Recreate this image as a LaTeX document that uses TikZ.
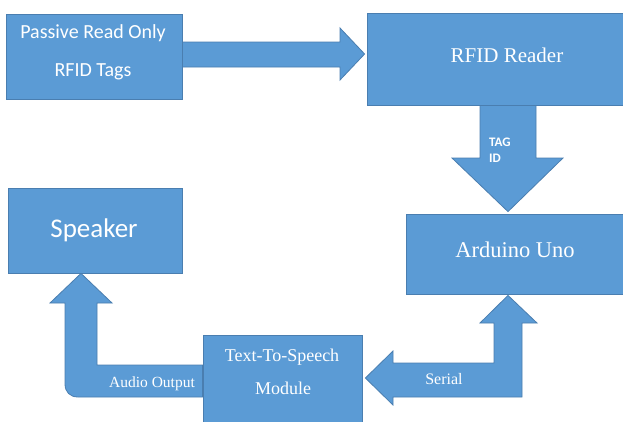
\documentclass[tikz,border=0pt]{standalone}
\usepackage{fontspec}
\setmainfont{Liberation Serif}
\newfontfamily\calfont{Carlito}
\usetikzlibrary{calc}
\definecolor{boxblue}{HTML}{5B9BD5}
\definecolor{edgeblue}{HTML}{4A7EB0}
\newcommand{\fsz}[1]{\fontsize{#1}{#1}\selectfont}
\tikzset{
  blk/.style={draw=edgeblue, fill=boxblue, line width=0.8pt, inner sep=0pt, rectangle},
  arr/.style={draw=edgeblue, fill=boxblue, line width=0.8pt, line join=miter},
  lbl/.style={text=white, inner sep=0pt, anchor=base},
}
\begin{document}
\begin{tikzpicture}[x=1pt, y=-1pt]
  \useasboundingbox (0,0) rectangle (623,421);
  \fill[white] (0,0) rectangle (623,421);
  \clip (0,0) rectangle (623,421);

  % blocks
  \node[blk, minimum width=176pt, minimum height=85pt] (tags)    at (94,56.5)  {};
  \node[blk, minimum width=263pt, minimum height=92pt] (reader)  at (498.5,59) {};
  \node[blk, minimum width=224pt, minimum height=80pt] (arduino) at (518,254)  {};
  \node[blk, minimum width=174pt, minimum height=85pt] (speaker) at (95,230.5) {};
  \node[blk, minimum width=159pt, minimum height=95pt] (tts)     at (282.5,382.5) {};

  % arrow ends taken from the blocks
  \coordinate (tagsOut)   at ($(tags.east)+(0,-2)$);
  \coordinate (readerIn)  at ($(reader.west)+(-2,-5)$);
  \coordinate (readerOut) at ($(reader.south)+(9.5,0)$);
  \coordinate (ardIn)     at ($(arduino.north)+(-10,-2)$);
  \coordinate (ardOut)    at ($(arduino.south)+(-10,1)$);
  \coordinate (ttsIn)     at ($(tts.east)+(3,-4.5)$);
  \coordinate (ttsOut)    at ($(tts.west)+(0,-1.5)$);
  \coordinate (spkIn)     at (speaker.south -| 81,0);

  % tags -> reader
  \draw[arr] ($(tagsOut)+(0,-12.5)$) -- (340,42) -- (340,28) -- (readerIn)
             -- (340,80) -- (340,67) -- ($(tagsOut)+(0,12.5)$) -- cycle;

  % reader -> arduino (tag id)
  \draw[arr] ($(readerOut)+(-28,0)$) -- (480,158) -- (452,158) -- (ardIn)
             -- (563,158) -- (536,158) -- ($(readerOut)+(28,0)$) -- cycle;

  % tts -> speaker (audio output)
  \draw[arr] ($(ttsOut)+(0,-16)$) -- (97,365) -- (97,303) -- (112,303)
             -- (spkIn) -- (50,303) -- (65,303) -- (65,384)
             .. controls (65,392) and (70,397) .. (78,397)
             -- ($(ttsOut)+(0,16)$) -- cycle;

  % arduino -> tts (serial)
  \draw[arr] (522,397) -- (522,323) -- (537,323) -- (ardOut)
             -- (480,323) -- (494,323) -- (494,363) -- (393,363)
             -- (393,351) -- (ttsIn) -- (393,405) -- (393,397) -- cycle;

  % labels
  \node[lbl] (tagsA) at (93,38.4) {\calfont\fsz{20}Passive Read Only};
  \node[lbl] (tagsB) at (93,76.4) {\calfont\fsz{20}RFID Tags};
  \node[lbl] (readerL) at (507,62) {\fsz{21}RFID Reader};
  \node[lbl, anchor=base west] (tagid1) at (489,146) {\calfont\bfseries\fsz{13}TAG};
  \node[lbl, anchor=base west] (tagid2) at (489,162) {\calfont\bfseries\fsz{13}ID};
  \node[lbl] (speakerL) at (94,237) {\calfont\fsz{27}Speaker};
  \node[lbl] (arduinoL) at (515,257) {\fsz{22.5}Arduino Uno};
  \node[lbl] (ttsA) at (282,361) {\fsz{18}Text-To-Speech};
  \node[lbl] (ttsB) at (283,394) {\fsz{18}Module};
  \node[lbl] (audioL) at (152,387) {\fsz{15.5}Audio Output};
  \node[lbl] (serialL) at (444,384) {\fsz{16}Serial};
\end{tikzpicture}
\end{document}
